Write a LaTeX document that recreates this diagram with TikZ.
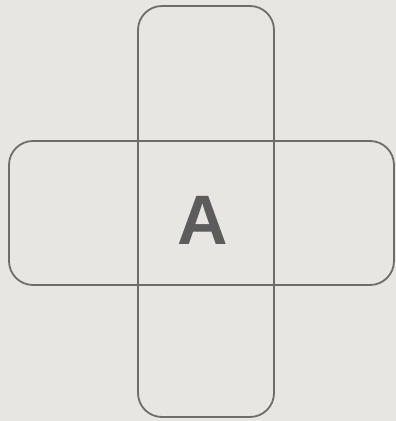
\documentclass[tikz,border=0pt]{standalone}
\usepackage{fontspec}
\setmainfont{Liberation Sans}
\definecolor{bg}{HTML}{E8E6E3}
\definecolor{edge}{HTML}{6E6D69}
\definecolor{letter}{HTML}{5C5C5C}
\begin{document}
\begin{tikzpicture}[x=1pt,y=1pt,
  arm/.style={draw=edge, line width=1.8pt, rounded corners=24pt, inner sep=0pt}]
\fill[bg] (0,0) rectangle (396,421);
\useasboundingbox (0,0) rectangle (396,421);
\node[arm, minimum width=136pt, minimum height=411pt] (vert) at (206,209.5) {};
\node[arm, minimum width=385pt, minimum height=144pt] (horiz) at (201.5,208) {};
\node[text=letter, font=\fontsize{70}{70}\selectfont\bfseries, inner sep=0pt] (a) at (202.5,201) {A};
\end{tikzpicture}
\end{document}
